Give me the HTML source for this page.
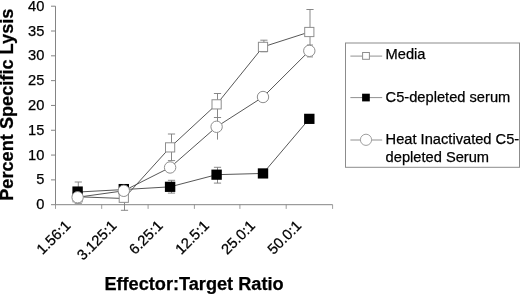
<!DOCTYPE html><html><head><meta charset="utf-8"><title>Chart</title><style>html,body{margin:0;padding:0;background:#fff}svg{display:block}text{font-family:"Liberation Sans",Arial,sans-serif;fill:#000;stroke:#000;stroke-width:0.25px}</style></head><body>
<svg width="520" height="294" viewBox="0 0 520 294">
<rect width="520" height="294" fill="#fff"/>
<g stroke="#848484" stroke-width="1" fill="none">
<line x1="55.5" y1="6.2" x2="55.5" y2="204.7"/>
<line x1="55.5" y1="204.7" x2="332.6" y2="204.7"/>
<line x1="51" y1="204.70" x2="55.5" y2="204.70"/>
<line x1="51" y1="179.89" x2="55.5" y2="179.89"/>
<line x1="51" y1="155.07" x2="55.5" y2="155.07"/>
<line x1="51" y1="130.26" x2="55.5" y2="130.26"/>
<line x1="51" y1="105.45" x2="55.5" y2="105.45"/>
<line x1="51" y1="80.64" x2="55.5" y2="80.64"/>
<line x1="51" y1="55.82" x2="55.5" y2="55.82"/>
<line x1="51" y1="31.01" x2="55.5" y2="31.01"/>
<line x1="51" y1="6.20" x2="55.5" y2="6.20"/>
<line x1="55.50" y1="204.7" x2="55.50" y2="208.89999999999998" stroke-width="0.8"/>
<line x1="101.70" y1="204.7" x2="101.70" y2="208.89999999999998" stroke-width="0.8"/>
<line x1="148.10" y1="204.7" x2="148.10" y2="208.89999999999998" stroke-width="0.8"/>
<line x1="194.40" y1="204.7" x2="194.40" y2="208.89999999999998" stroke-width="0.8"/>
<line x1="239.90" y1="204.7" x2="239.90" y2="208.89999999999998" stroke-width="0.8"/>
<line x1="286.20" y1="204.7" x2="286.20" y2="208.89999999999998" stroke-width="0.8"/>
<line x1="332.60" y1="204.7" x2="332.60" y2="208.89999999999998" stroke-width="0.8"/>
</g>
<text x="44.4" y="209.20" font-size="14.67" text-anchor="end">0</text>
<text x="44.4" y="184.39" font-size="14.67" text-anchor="end">5</text>
<text x="44.4" y="159.57" font-size="14.67" text-anchor="end">10</text>
<text x="44.4" y="134.76" font-size="14.67" text-anchor="end">15</text>
<text x="44.4" y="109.95" font-size="14.67" text-anchor="end">20</text>
<text x="44.4" y="85.14" font-size="14.67" text-anchor="end">25</text>
<text x="44.4" y="60.32" font-size="14.67" text-anchor="end">30</text>
<text x="44.4" y="35.51" font-size="14.67" text-anchor="end">35</text>
<text x="44.4" y="10.70" font-size="14.67" text-anchor="end">40</text>
<text transform="translate(71.40,226.5) rotate(-45)" font-size="14.67" text-anchor="end">1.56:1</text>
<text transform="translate(117.58,226.5) rotate(-45)" font-size="14.67" text-anchor="end">3.125:1</text>
<text transform="translate(163.76,226.5) rotate(-45)" font-size="14.67" text-anchor="end">6.25:1</text>
<text transform="translate(209.94,226.5) rotate(-45)" font-size="14.67" text-anchor="end">12.5:1</text>
<text transform="translate(256.12,226.5) rotate(-45)" font-size="14.67" text-anchor="end">25.0:1</text>
<text transform="translate(302.30,226.5) rotate(-45)" font-size="14.67" text-anchor="end">50.0:1</text>
<text x="104.4" y="289.6" font-size="18" font-weight="bold" textLength="179.2" lengthAdjust="spacingAndGlyphs">Effector:Target Ratio</text>
<text transform="translate(13.4,200.8) rotate(-90)" font-size="18" font-weight="bold" textLength="192.2" lengthAdjust="spacingAndGlyphs">Percent Specific Lysis</text>
<g stroke="#7a7a7a" stroke-width="0.9" fill="none">
<line x1="78.3" y1="182" x2="78.3" y2="203.3"/><line x1="74.7" y1="182" x2="81.89999999999999" y2="182"/><line x1="74.7" y1="203.3" x2="81.89999999999999" y2="203.3"/>
<line x1="124.5" y1="185" x2="124.5" y2="210.3"/><line x1="120.9" y1="185" x2="128.1" y2="185"/><line x1="120.9" y1="210.3" x2="128.1" y2="210.3"/>
<line x1="171.5" y1="134" x2="171.5" y2="160.6"/><line x1="167.9" y1="134" x2="175.1" y2="134"/><line x1="167.9" y1="160.6" x2="175.1" y2="160.6"/>
<line x1="217.5" y1="93.5" x2="217.5" y2="117.5"/><line x1="213.9" y1="93.5" x2="221.1" y2="93.5"/><line x1="213.9" y1="117.5" x2="221.1" y2="117.5"/>
<line x1="263.9" y1="40.2" x2="263.9" y2="51.8"/><line x1="260.29999999999995" y1="40.2" x2="267.5" y2="40.2"/><line x1="260.29999999999995" y1="51.8" x2="267.5" y2="51.8"/>
<line x1="310.0" y1="9.5" x2="310.0" y2="54.3"/><line x1="306.4" y1="9.5" x2="313.6" y2="9.5"/><line x1="306.4" y1="54.3" x2="313.6" y2="54.3"/>
<line x1="171.5" y1="180.3" x2="171.5" y2="193.1"/><line x1="167.9" y1="180.3" x2="175.1" y2="180.3"/><line x1="167.9" y1="193.1" x2="175.1" y2="193.1"/>
<line x1="217.5" y1="167.3" x2="217.5" y2="183.1"/><line x1="213.9" y1="167.3" x2="221.1" y2="167.3"/><line x1="213.9" y1="183.1" x2="221.1" y2="183.1"/>
<line x1="217.5" y1="117.5" x2="217.5" y2="139.6"/>
<line x1="310.0" y1="45" x2="310.0" y2="56.9"/><line x1="307.0" y1="45" x2="313.0" y2="45"/><line x1="307.0" y1="56.9" x2="313.0" y2="56.9"/>
</g>
<polyline points="77.6,196.76 123.8,198.50 170.1,147.38 216.6,104.36 263.0,46.89 309.3,32.00" fill="none" stroke="#444444" stroke-width="0.9"/>
<rect x="73.00" y="192.66" width="9.2" height="9.2" fill="#fff" stroke="#8e8e8e" stroke-width="1"/>
<rect x="119.20" y="193.15" width="9.2" height="9.2" fill="#fff" stroke="#8e8e8e" stroke-width="1"/>
<rect x="165.50" y="142.78" width="9.2" height="9.2" fill="#fff" stroke="#8e8e8e" stroke-width="1"/>
<rect x="212.00" y="99.76" width="9.2" height="9.2" fill="#fff" stroke="#8e8e8e" stroke-width="1"/>
<rect x="258.40" y="42.29" width="9.2" height="9.2" fill="#fff" stroke="#8e8e8e" stroke-width="1"/>
<rect x="304.70" y="27.40" width="9.2" height="9.2" fill="#fff" stroke="#8e8e8e" stroke-width="1"/>
<polyline points="77.6,192.05 123.8,189.56 170.1,186.83 216.6,174.68 263.0,173.44 309.3,118.85" fill="none" stroke="#444444" stroke-width="0.9"/>
<rect x="72.40" y="186.45" width="10.4" height="10.2" fill="#000"/>
<rect x="118.60" y="183.97" width="10.4" height="10.2" fill="#000"/>
<rect x="164.90" y="181.73" width="10.4" height="10.2" fill="#000"/>
<rect x="211.40" y="169.58" width="10.4" height="10.2" fill="#000"/>
<rect x="257.80" y="168.34" width="10.4" height="10.2" fill="#000"/>
<rect x="304.10" y="113.75" width="10.4" height="10.2" fill="#000"/>
<polyline points="77.6,197.26 123.8,190.80 170.1,167.48 216.6,126.79 263.0,97.01 309.3,50.86" fill="none" stroke="#444444" stroke-width="0.9"/>
<circle cx="77.60" cy="197.26" r="5.7" fill="#fff" stroke="#8e8e8e" stroke-width="1"/>
<circle cx="123.80" cy="190.80" r="5.7" fill="#fff" stroke="#8e8e8e" stroke-width="1"/>
<circle cx="170.10" cy="167.48" r="5.7" fill="#fff" stroke="#8e8e8e" stroke-width="1"/>
<circle cx="216.60" cy="126.79" r="5.7" fill="#fff" stroke="#8e8e8e" stroke-width="1"/>
<circle cx="263.00" cy="97.01" r="5.7" fill="#fff" stroke="#8e8e8e" stroke-width="1"/>
<circle cx="309.30" cy="50.86" r="5.7" fill="#fff" stroke="#8e8e8e" stroke-width="1"/>
<rect x="345.5" y="43" width="174" height="124.3" fill="#fff" stroke="#8c8c8c" stroke-width="1"/>
<g stroke="#848484" stroke-width="0.9"><line x1="350.4" y1="56.1" x2="382.2" y2="56.1"/><line x1="350.4" y1="97.6" x2="382.2" y2="97.6"/><line x1="350.4" y1="140" x2="382.2" y2="140"/></g>
<rect x="362.6" y="52.5" width="6.8" height="6.8" fill="#fff" stroke="#8e8e8e" stroke-width="1"/>
<rect x="362.1" y="93.7" width="7.7" height="7.7" fill="#000"/>
<circle cx="366" cy="139.8" r="5.6" fill="#fff" stroke="#a0a0a0" stroke-width="1"/>
<text x="385.6" y="59.2" font-size="14.67">Media</text>
<text x="385.6" y="101.9" font-size="14.67">C5-depleted serum</text>
<text x="385.6" y="143.7" font-size="14.67">Heat Inactivated C5-</text>
<text x="385.6" y="161.6" font-size="14.67">depleted Serum</text>
</svg></body></html>
